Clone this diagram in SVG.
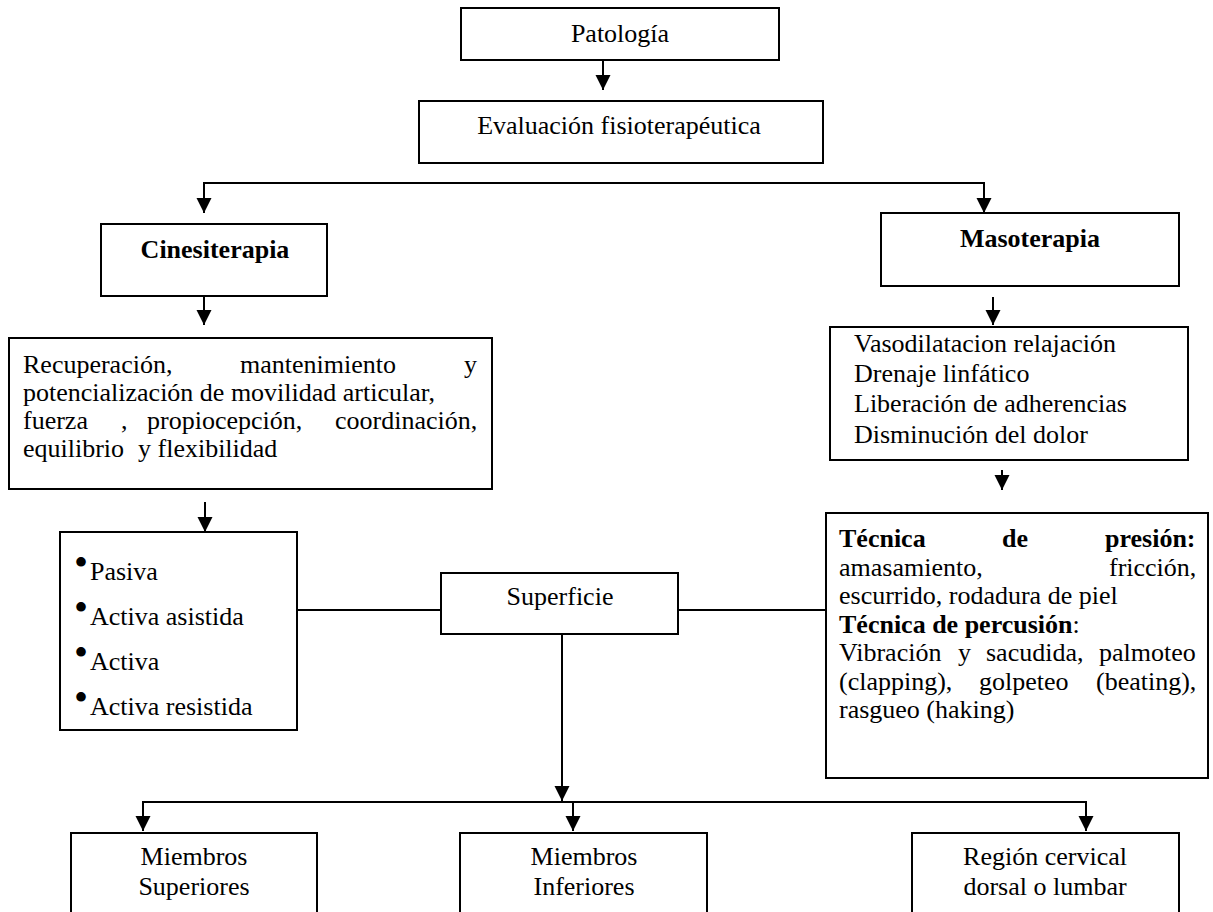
<svg xmlns="http://www.w3.org/2000/svg" width="1213" height="912" viewBox="0 0 1213 912">
<style>
  .box { fill: #ffffff; stroke: #000000; stroke-width: 2; }
  .t { font-family: "Liberation Serif", "Times New Roman", serif; font-size: 26px; fill: #000000; }
  .c { text-anchor: middle; }
  .bold { font-weight: bold; }
  .bul { font-family: "Liberation Serif", "Times New Roman", serif; font-size: 40px; fill: #000000; }
  .con { stroke: #000000; stroke-width: 2; fill: none; }
  .arr { stroke: #000000; stroke-width: 2; fill: none; marker-end: url(#ah); }
</style>
<defs>
  <marker id="ah" markerUnits="userSpaceOnUse" markerWidth="16" markerHeight="16" viewBox="0 0 16 16" refX="15" refY="8" orient="auto">
    <path d="M0,0.5 L15,8 L0,15.5 z" fill="#000000"/>
  </marker>
</defs>
<rect width="1213" height="912" fill="#ffffff"/>

<g id="connectors">
  <line class="arr" x1="603" y1="60" x2="603" y2="90"/>
  <line class="con" x1="204" y1="183" x2="984" y2="183"/>
  <line class="arr" x1="204" y1="182" x2="204" y2="213"/>
  <line class="arr" x1="984" y1="182" x2="984" y2="213"/>
  <line class="arr" x1="204" y1="296" x2="204" y2="325"/>
  <line class="arr" x1="993" y1="297" x2="993" y2="325"/>
  <line class="arr" x1="1002" y1="470" x2="1002" y2="490"/>
  <line class="arr" x1="205" y1="502" x2="205" y2="532"/>
  <line class="con" x1="297" y1="610" x2="441" y2="610"/>
  <line class="con" x1="678" y1="610" x2="826" y2="610"/>
  <line class="arr" x1="562" y1="634" x2="562" y2="801"/>
  <line class="con" x1="143" y1="802" x2="1086" y2="802"/>
  <line class="arr" x1="143" y1="801" x2="143" y2="831"/>
  <line class="arr" x1="573" y1="801" x2="573" y2="831"/>
  <line class="arr" x1="1086" y1="801" x2="1086" y2="831"/>
</g>

<g id="patologia">
  <rect class="box" x="461" y="8" width="318" height="52"/>
  <text class="t c" x="620" y="42">Patología</text>
</g>

<g id="evaluacion">
  <rect class="box" x="419" y="101" width="404" height="62"/>
  <text class="t c" x="619" y="134">Evaluación fisioterapéutica</text>
</g>

<g id="cinesiterapia">
  <rect class="box" x="101" y="224" width="226" height="72"/>
  <text class="t c bold" x="215" y="258">Cinesiterapia</text>
</g>

<g id="masoterapia">
  <rect class="box" x="881" y="213" width="298" height="73"/>
  <text class="t c bold" x="1030" y="247">Masoterapia</text>
</g>

<g id="recuperacion">
  <rect class="box" x="9" y="338" width="483" height="151"/>
  <text class="t" y="373"><tspan x="23">Recuperación,</tspan><tspan x="240">mantenimiento</tspan><tspan x="464">y</tspan></text>
  <text class="t" x="23" y="401">potencialización de movilidad articular,</text>
  <text class="t" y="429"><tspan x="23">fuerza</tspan><tspan x="121">,</tspan><tspan x="147">propiocepción,</tspan><tspan x="335">coordinación,</tspan></text>
  <text class="t" y="457"><tspan x="23">equilibrio</tspan><tspan x="138">y flexibilidad</tspan></text>
</g>

<g id="efectos">
  <rect class="box" x="830" y="327" width="358" height="133"/>
  <text class="t" x="854" y="352">Vasodilatacion relajación</text>
  <text class="t" x="854" y="382">Drenaje linfático</text>
  <text class="t" x="854" y="412">Liberación de adherencias</text>
  <text class="t" x="854" y="443">Disminución del dolor</text>
</g>

<g id="tipos">
  <rect class="box" x="60" y="532" width="237" height="198"/>
  <text class="bul" x="74" y="576">•</text>
  <text class="t" x="90" y="580">Pasiva</text>
  <text class="bul" x="74" y="621">•</text>
  <text class="t" x="90" y="625">Activa asistida</text>
  <text class="bul" x="74" y="666">•</text>
  <text class="t" x="90" y="670">Activa</text>
  <text class="bul" x="74" y="711">•</text>
  <text class="t" x="90" y="715">Activa resistida</text>
</g>

<g id="superficie">
  <rect class="box" x="441" y="573" width="237" height="61"/>
  <text class="t c" x="560" y="605">Superficie</text>
</g>

<g id="tecnicas">
  <rect class="box" x="826" y="513" width="382" height="265"/>
  <text class="t bold" y="547"><tspan x="839">Técnica</tspan><tspan x="1002">de</tspan><tspan x="1105">presión:</tspan></text>
  <text class="t" y="575.5"><tspan x="839">amasamiento,</tspan><tspan x="1109">fricción,</tspan></text>
  <text class="t" x="839" y="604">escurrido, rodadura de piel</text>
  <text class="t" x="839" y="632.5"><tspan class="bold">Técnica de percusión</tspan>:</text>
  <text class="t" y="661"><tspan x="839">Vibración</tspan><tspan x="958">y</tspan><tspan x="986">sacudida,</tspan><tspan x="1099">palmoteo</tspan></text>
  <text class="t" y="689.5"><tspan x="839">(clapping),</tspan><tspan x="979">golpeteo</tspan><tspan x="1096">(beating),</tspan></text>
  <text class="t" x="839" y="718">rasgueo (haking)</text>
</g>

<g id="superiores">
  <rect class="box" x="71" y="833" width="246" height="100"/>
  <text class="t c" x="194" y="865">Miembros</text>
  <text class="t c" x="194" y="895">Superiores</text>
</g>

<g id="inferiores">
  <rect class="box" x="460" y="833" width="247" height="100"/>
  <text class="t c" x="584" y="865">Miembros</text>
  <text class="t c" x="584" y="895">Inferiores</text>
</g>

<g id="region">
  <rect class="box" x="912" y="833" width="267" height="100"/>
  <text class="t c" x="1045" y="865">Región cervical</text>
  <text class="t c" x="1045" y="895">dorsal o lumbar</text>
</g>
</svg>
